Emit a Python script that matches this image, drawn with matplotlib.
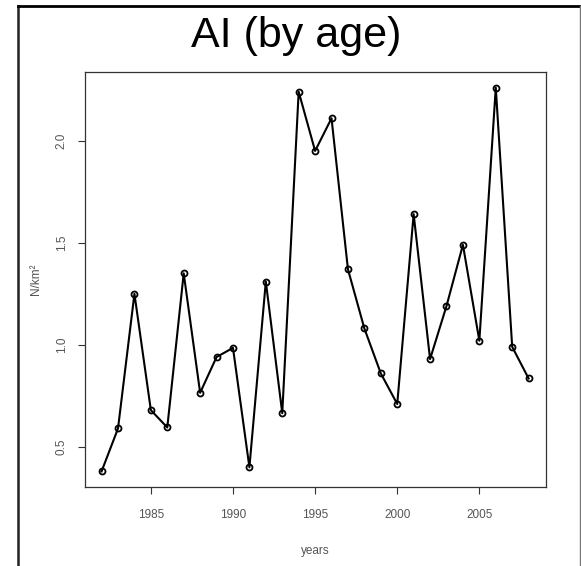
import matplotlib
matplotlib.use("Agg")
import matplotlib.pyplot as plt
from matplotlib.lines import Line2D

plt.rcParams['font.family'] = ['Liberation Sans', 'DejaVu Sans']

# abundance index by year
years = [1982, 1983, 1984, 1985, 1986, 1987, 1988, 1989, 1990, 1991,
         1992, 1993, 1994, 1995, 1996, 1997, 1998, 1999, 2000, 2001,
         2002, 2003, 2004, 2005, 2006, 2007, 2008]
density = [0.38, 0.59, 1.25, 0.68, 0.595, 1.35, 0.765, 0.94, 0.985, 0.40,
           1.31, 0.665, 2.24, 1.95, 2.11, 1.37, 1.08, 0.86, 0.71, 1.64,
           0.93, 1.19, 1.49, 1.02, 2.26, 0.99, 0.835]
xticks = [1985, 1990, 1995, 2000, 2005]
yticks = [0.5, 1.0, 1.5, 2.0]

W, H = 581, 566
fig = plt.figure(figsize=(W / 100, H / 100), dpi=100)

# device border (partly clipped by the page)
fig.add_artist(Line2D([18 / W, 18 / W], [0, 1 - 6 / H], color='#222222', lw=1.8))
fig.add_artist(Line2D([18 / W, 580 / W], [1 - 6 / H, 1 - 6 / H], color='black', lw=2.0))
fig.add_artist(Line2D([579.5 / W, 579.5 / W], [0, 1 - 6 / H], color='#777777', lw=1.0))

ax = fig.add_axes([84.5 / W, 1 - 486.7 / H, (545.7 - 84.5) / W, (486.7 - 72.3) / H])
ax.plot(years, density, color='black', lw=1.5, marker='o', markersize=4.3,
        markerfacecolor='none', markeredgewidth=1.3)

# R-style 4% padding on both axes
xr = years[-1] - years[0]
ax.set_xlim(years[0] - 0.04 * xr, years[-1] + 0.04 * xr)
yr = max(density) - min(density)
ax.set_ylim(min(density) - 0.04 * yr, max(density) + 0.04 * yr)

ax.set_xticks(xticks)
ax.set_xticklabels([str(t) for t in xticks])
ax.set_yticks(yticks)
ax.set_yticklabels([f'{t:.1f}' for t in yticks], rotation=90, va='center')
ax.tick_params(axis='both', direction='out', length=5, width=0.8, color='#333333',
               labelsize=8.5, labelcolor='#555555')
ax.tick_params(axis='x', pad=11)
ax.tick_params(axis='y', pad=7)
for sp in ax.spines.values():
    sp.set_color('#333333')
    sp.set_linewidth(0.9)

ax.set_xlabel('years', fontsize=8.5, color='#555555')
ax.xaxis.set_label_coords(0.5, -0.141)
ax.set_ylabel('N/km²', fontsize=8.5, color='#555555')
ax.yaxis.set_label_coords(-0.093, 0.5)

fig.text(296 / W, 1 - 36 / H, 'AI (by age)', fontsize=31, ha='center', va='center',
         color='black')

fig.savefig('out.png', dpi=100)
